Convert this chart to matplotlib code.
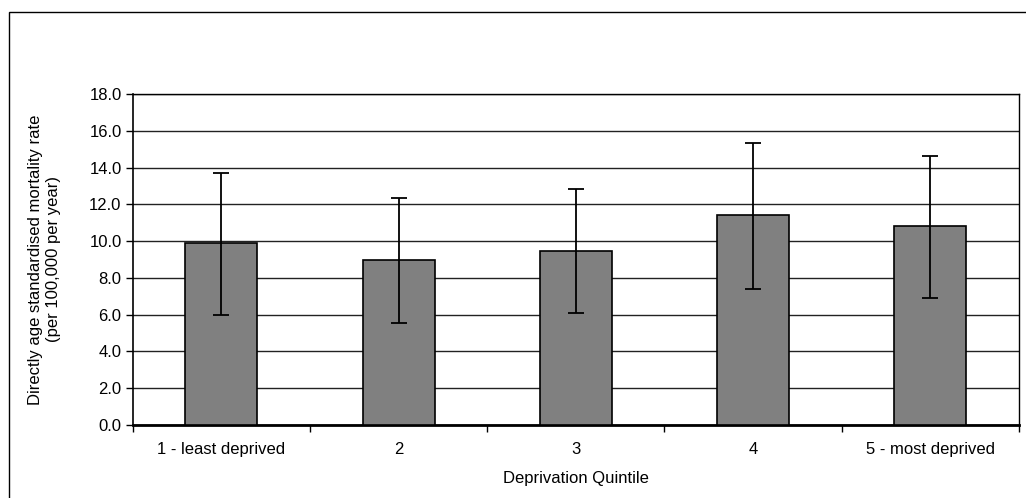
import matplotlib.pyplot as plt
from matplotlib.patches import Rectangle

plt.rcParams['font.family'] = ['Liberation Sans', 'DejaVu Sans']

categories = ["1 - least deprived", "2", "3", "4", "5 - most deprived"]
rates = [9.88, 8.97, 9.46, 11.42, 10.82]
ci_upper = [13.72, 12.36, 12.85, 15.33, 14.64]
ci_lower = [5.98, 5.56, 6.07, 7.41, 6.90]

W, H = 1026, 498
fig = plt.figure(figsize=(W / 100, H / 100), dpi=100)
ax = fig.add_axes([132.7 / W, 1 - 425 / H, (1019 - 132.7) / W, (425 - 94) / H])

x = list(range(len(categories)))
err_lo = [r - l for r, l in zip(rates, ci_lower)]
err_hi = [u - r for r, u in zip(rates, ci_upper)]

ax.bar(x, rates, width=0.406, color="#808080", edgecolor="black", linewidth=1.2, zorder=3)
ax.errorbar(x, rates, yerr=[err_lo, err_hi], fmt="none", ecolor="black",
            elinewidth=1.3, capsize=6, capthick=1.3, zorder=4)

ax.set_xlim(-0.5, len(categories) - 0.5)
ax.set_ylim(0, 18)
ax.set_yticks([i * 2 for i in range(10)])
ax.set_yticklabels([f"{i * 2:.1f}" for i in range(10)], fontsize=12)
ax.yaxis.grid(True, color="#222222", linewidth=1.0, zorder=0)
ax.set_axisbelow(True)

# category labels sit between the boundary ticks
ax.set_xticks(x)
ax.set_xticklabels(categories, fontsize=12)
ax.tick_params(axis="x", which="major", length=0, pad=12)
ax.set_xticks([i - 0.5 for i in range(len(categories) + 1)], minor=True)
ax.tick_params(axis="x", which="minor", length=5, width=1, direction="out")
ax.tick_params(axis="y", length=5, width=1, pad=3)

for side in ["top", "right"]:
    ax.spines[side].set_linewidth(1.0)
ax.spines["left"].set_linewidth(1.2)
ax.spines["bottom"].set_linewidth(2.0)

ax.set_xlabel("Deprivation Quintile", fontsize=12, labelpad=10)
ax.set_ylabel("Directly age standardised mortality rate\n(per 100,000 per year)",
              fontsize=12, labelpad=20, linespacing=1.25)

# outer chart frame
fig.patches.append(Rectangle((9 / W, -0.1), 1.2, 1 - 12 / H + 0.1,
                             transform=fig.transFigure, fill=False,
                             edgecolor="black", linewidth=1.0))

fig.savefig("out.png", dpi=100)
